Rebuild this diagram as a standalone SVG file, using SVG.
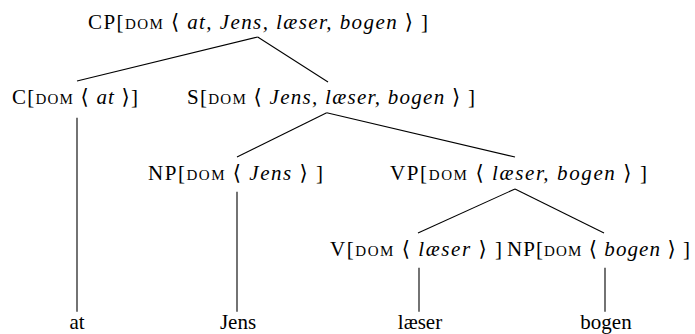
<svg xmlns="http://www.w3.org/2000/svg" width="695" height="334" viewBox="0 0 695 334">
  <style>
    .lbl { font-family: "Liberation Serif", "Times New Roman", "DejaVu Serif", serif; font-size: 21px; fill: #000; }
    .sc { font-size: 15px; }
    .it { font-style: italic; }
    .edge { stroke: #000; stroke-width: 1.1; fill: none; }
  </style>

  <!-- tree edges -->
  <g id="edges">
    <line class="edge" x1="257.7" y1="37" x2="77" y2="81"/>
    <line class="edge" x1="257.7" y1="37" x2="328" y2="82"/>
    <line class="edge" x1="77" y1="117.7" x2="77" y2="311.7"/>
    <line class="edge" x1="326.7" y1="112.7" x2="237" y2="157"/>
    <line class="edge" x1="326.7" y1="112.7" x2="515" y2="157"/>
    <line class="edge" x1="237" y1="191.7" x2="237" y2="311.7"/>
    <line class="edge" x1="515" y1="189" x2="418" y2="233"/>
    <line class="edge" x1="515" y1="189" x2="604" y2="233"/>
    <line class="edge" x1="419" y1="267.7" x2="419" y2="311.7"/>
    <line class="edge" x1="605" y1="267.7" x2="605" y2="311.7"/>
  </g>

  <g id="cp">
    <text class="lbl" x="88" y="29" textLength="340" lengthAdjust="spacing">CP[<tspan class="sc">DOM</tspan> ⟨ <tspan class="it">at, Jens, læser, bogen</tspan> ⟩ ]</text>
  </g>
  <g id="c">
    <text class="lbl" x="12" y="104" textLength="126" lengthAdjust="spacing">C[<tspan class="sc">DOM</tspan> ⟨ <tspan class="it">at</tspan> ⟩]</text>
  </g>
  <g id="s">
    <text class="lbl" x="187" y="104" textLength="288" lengthAdjust="spacing">S[<tspan class="sc">DOM</tspan> ⟨ <tspan class="it">Jens, læser, bogen</tspan> ⟩ ]</text>
  </g>
  <g id="np-jens">
    <text class="lbl" x="148" y="180" textLength="175" lengthAdjust="spacing">NP[<tspan class="sc">DOM</tspan> ⟨ <tspan class="it">Jens</tspan> ⟩ ]</text>
  </g>
  <g id="vp">
    <text class="lbl" x="390" y="180" textLength="257" lengthAdjust="spacing">VP[<tspan class="sc">DOM</tspan> ⟨ <tspan class="it">læser, bogen</tspan> ⟩ ]</text>
  </g>
  <g id="v">
    <text class="lbl" x="330" y="256" textLength="172" lengthAdjust="spacing">V[<tspan class="sc">DOM</tspan> ⟨ <tspan class="it">læser</tspan> ⟩ ]</text>
  </g>
  <g id="np-bogen">
    <text class="lbl" x="507" y="256" textLength="183" lengthAdjust="spacing">NP[<tspan class="sc">DOM</tspan> ⟨ <tspan class="it">bogen</tspan> ⟩ ]</text>
  </g>

  <g id="leaf-at"><text class="lbl" x="77" y="329" text-anchor="middle">at</text></g>
  <g id="leaf-jens"><text class="lbl" x="238" y="329" text-anchor="middle">Jens</text></g>
  <g id="leaf-laeser"><text class="lbl" x="420" y="329" text-anchor="middle">læser</text></g>
  <g id="leaf-bogen"><text class="lbl" x="606" y="329" text-anchor="middle">bogen</text></g>
</svg>
